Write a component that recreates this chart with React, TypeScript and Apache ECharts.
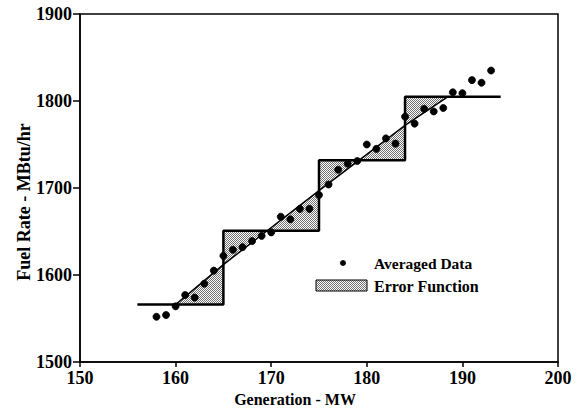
import React, { useEffect, useRef } from "react";
import * as echarts from "echarts";

const generation = [158, 159, 160, 161, 162, 163, 164, 165, 166, 167, 168, 169, 170, 171, 172, 173, 174, 175, 176, 177, 178, 179, 180, 181, 182, 183, 184, 185, 186, 187, 188, 189, 190, 191, 192, 193];
const fuelRate = [1552, 1554, 1564, 1577, 1574, 1590, 1605, 1622, 1629, 1632, 1639, 1645, 1649, 1667, 1664, 1676, 1676, 1692, 1704, 1721, 1728, 1731, 1750, 1745, 1757, 1751, 1782, 1774, 1791, 1788, 1792, 1810, 1809, 1824, 1821, 1835];

const stepX = [156, 165, 165, 175, 175, 184, 184, 194];
const stepY = [1566, 1566, 1651, 1651, 1732, 1732, 1805, 1805];

const fitX = [160, 165, 175, 184, 188.5];
const fitY = [1566, 1612, 1697, 1772, 1805];

const errorRegions: number[][][] = [
  [[160, 1566], [165, 1566], [165, 1612]],
  [[165, 1612], [165, 1651], [169.6, 1651]],
  [[169.6, 1651], [175, 1651], [175, 1697]],
  [[175, 1697], [175, 1732], [179.2, 1732]],
  [[179.2, 1732], [184, 1732], [184, 1772]],
  [[184, 1772], [184, 1805], [188.5, 1805]],
];

const xTicks = { min: 150, max: 200, interval: 10 };
const yTicks = { min: 1500, max: 1900, interval: 100 };

const legendLabels = ["Averaged Data", "Error Function"];
const xName = "Generation - MW";
const yName = "Fuel Rate - MBtu/hr";

const FONT = '"Liberation Serif", "Times New Roman", serif';

function makePattern(): any {
  const c = document.createElement("canvas");
  c.width = 2;
  c.height = 2;
  const ctx = c.getContext("2d")!;
  ctx.fillStyle = "#ffffff";
  ctx.fillRect(0, 0, 2, 2);
  ctx.fillStyle = "#707070";
  ctx.fillRect(0, 0, 1, 1);
  ctx.fillRect(1, 1, 1, 1);
  return {
    image: c.toDataURL(),
    repeat: "repeat",
    imageWidth: 2,
    imageHeight: 2,
  };
}

export default function App() {
  const ref = useRef<HTMLDivElement>(null);
  useEffect(() => {
    if (!ref.current) return;
    const chart = echarts.init(ref.current, undefined, { renderer: "svg" });
    const pattern = makePattern();
    const labelStyle = {
      color: "#000",
      fontFamily: FONT,
      fontWeight: 700,
      fontSize: 18,
      formatter: (v: number) => String(v),
    };
    chart.setOption({
      animation: false,
      backgroundColor: "#fff",
      grid: {
        left: 80,
        right: 23,
        top: 14,
        bottom: 53,
        show: true,
        borderColor: "#000",
        borderWidth: 1.5,
        backgroundColor: "transparent",
      },
      xAxis: {
        type: "value",
        min: xTicks.min,
        max: xTicks.max,
        interval: xTicks.interval,
        axisLine: { show: true, lineStyle: { color: "#000", width: 1.5 } },
        axisTick: { show: true, length: 5, lineStyle: { color: "#000", width: 1.5 } },
        splitLine: { show: false },
        axisLabel: { ...labelStyle, margin: 7 },
      },
      yAxis: {
        type: "value",
        min: yTicks.min,
        max: yTicks.max,
        interval: yTicks.interval,
        axisLine: { show: true, lineStyle: { color: "#000", width: 1.5 } },
        axisTick: { show: true, length: 7, lineStyle: { color: "#000", width: 1.5 } },
        splitLine: { show: false },
        axisLabel: { ...labelStyle, margin: 8 },
      },
      series: [
        {
          type: "custom",
          name: legendLabels[1],
          renderItem: (params: any, api: any) => {
            const region = errorRegions[params.dataIndex];
            const pts = region.map((p) => api.coord(p));
            return {
              type: "polygon",
              shape: { points: pts },
              style: { fill: pattern, stroke: "none" },
            };
          },
          data: errorRegions.map((r) => r[0]),
          z: 1,
          silent: true,
        },
        {
          type: "line",
          data: fitX.map((x, i) => [x, fitY[i]]),
          showSymbol: false,
          lineStyle: { color: "#000", width: 1.5 },
          z: 2,
          silent: true,
        },
        {
          type: "line",
          data: stepX.map((x, i) => [x, stepY[i]]),
          showSymbol: false,
          lineStyle: { color: "#000", width: 2.5 },
          z: 3,
          silent: true,
        },
        {
          type: "scatter",
          name: legendLabels[0],
          data: generation.map((g, i) => [g, fuelRate[i]]),
          symbol: "circle",
          symbolSize: 7,
          itemStyle: { color: "#000", borderColor: "#000", borderWidth: 0.8, opacity: 1 },
          z: 4,
          silent: true,
        },
      ],
      graphic: [
        { type: "circle", shape: { cx: 343, cy: 263, r: 3 }, style: { fill: "#000" } },
        {
          type: "text",
          x: 374,
          y: 263,
          style: { text: legendLabels[0], fill: "#000", font: `bold 15.5px ${FONT}`, align: "left", verticalAlign: "middle" },
        },
        {
          type: "rect",
          shape: { x: 316, y: 280, width: 51, height: 11 },
          style: { fill: pattern, stroke: "#000", lineWidth: 1 },
        },
        {
          type: "text",
          x: 374,
          y: 286,
          style: { text: legendLabels[1], fill: "#000", font: `bold 16px ${FONT}`, align: "left", verticalAlign: "middle" },
        },
        {
          type: "text",
          x: 295,
          y: 399,
          style: { text: xName, fill: "#000", font: `bold 16px ${FONT}`, align: "center", verticalAlign: "middle" },
        },
        {
          type: "text",
          x: 24,
          y: 202,
          rotation: Math.PI / 2,
          style: { text: yName, fill: "#000", font: `bold 18px ${FONT}`, align: "center", verticalAlign: "middle" },
        },
      ],
    });
    return () => chart.dispose();
  }, []);
  return (
    <div
      ref={ref}
      style={{ position: "fixed", left: 0, top: 0, width: 581, height: 415, background: "#fff" }}
    />
  );
}
